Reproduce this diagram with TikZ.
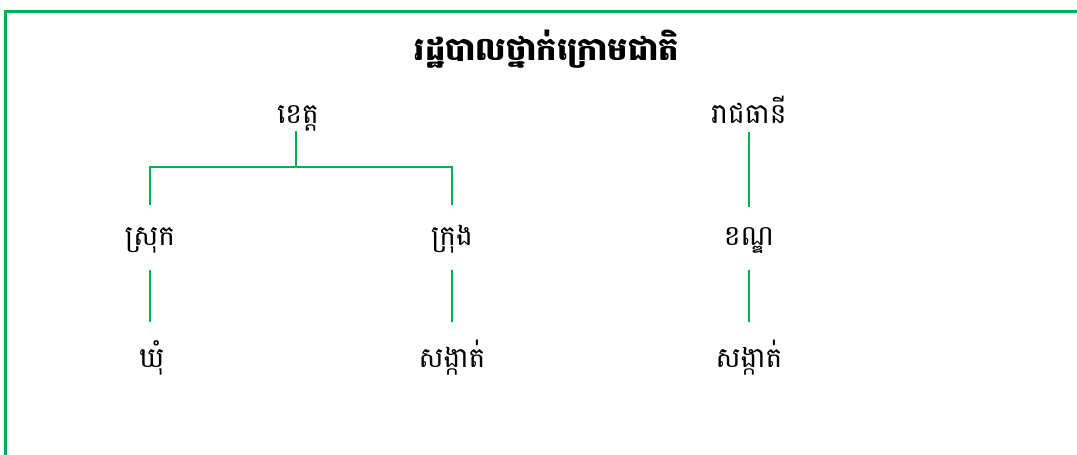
\documentclass[tikz,border=0pt]{standalone}
\usepackage{fontspec}
\newfontfamily\km[Script=Khmer]{Battambang}
\definecolor{lgreen}{RGB}{0,176,80}
\tikzset{
  lbl/.style={font=\km\fontsize{28}{32}\selectfont, anchor=base, inner sep=0pt},
  ttl/.style={font=\km\bfseries\fontsize{32}{36}\selectfont, anchor=base, inner sep=0pt},
  conn/.style={draw=lgreen, line width=2.2pt},
  frame/.style={draw=lgreen, line width=3pt}
}
\begin{document}
\begin{tikzpicture}[x=1pt,y=-1pt]
\useasboundingbox (0,0) rectangle (1077,455);
\coordinate (fl) at (5,455);
\coordinate (fc) at (5,11);
\coordinate (fr) at (1077,11);
\draw[frame] (fl) -- (fc) -- (fr);
\node[ttl] (title) at (547,60) {រដ្ឋបាលថ្នាក់ក្រោមជាតិ};
\node[lbl] (khet) at (298,123) {ខេត្ត};
\node[lbl] (reach) at (749,123) {រាជធានី};
\node[lbl] (srok) at (150,245) {ស្រុក};
\node[lbl] (krong) at (452,245) {ក្រុង};
\node[lbl] (khan) at (749,245) {ខណ្ឌ};
\node[lbl] (khum) at (152,367) {ឃុំ};
\node[lbl] (sk1) at (452,367) {សង្កាត់};
\node[lbl] (sk2) at (749,367) {សង្កាត់};
\coordinate (j) at (296,167);
\draw[conn] ([xshift=-2pt,yshift=-8pt]khet.base) -- (j);
\draw[conn] ([yshift=40pt]srok.base) |- (j) -| ([yshift=40pt]krong.base);
\draw[conn] ([yshift=-25pt]srok.base) -- ([xshift=-2pt,yshift=45pt]khum.base);
\draw[conn] ([yshift=-25pt]krong.base) -- ([yshift=45pt]sk1.base);
\draw[conn] ([yshift=-9pt]reach.base) -- ([yshift=38pt]khan.base);
\draw[conn] ([yshift=-25pt]khan.base) -- ([yshift=45pt]sk2.base);
\end{tikzpicture}
\end{document}
